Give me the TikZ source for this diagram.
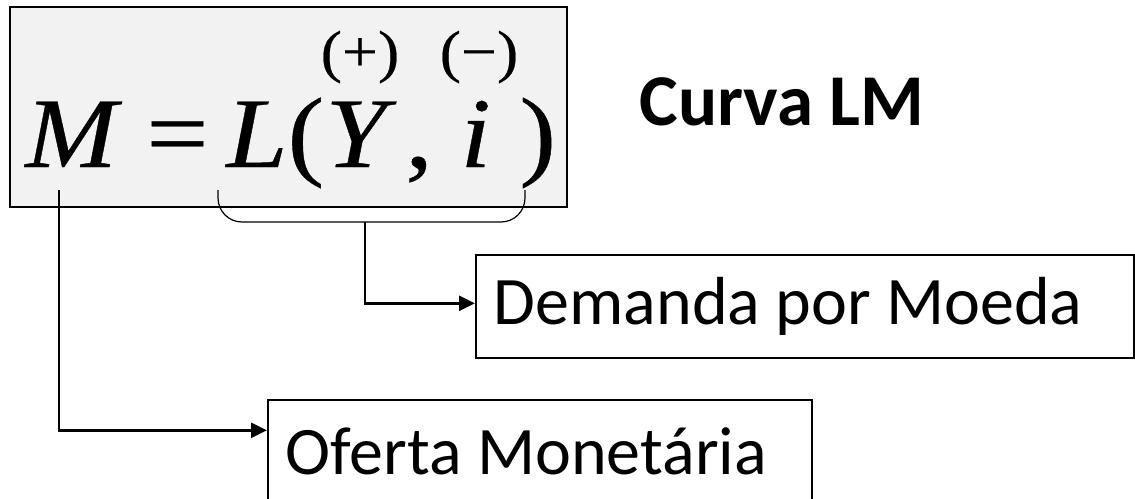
\documentclass[tikz,border=0pt]{standalone}
\usepackage{fontspec}
\setmainfont{Carlito}
\newfontfamily\tmsfont[FakeStretch=1.1, FakeBold=0.4]{Liberation Serif}
\usetikzlibrary{arrows.meta, positioning}

\begin{document}
\begin{tikzpicture}[
        x=0.5pt, y=-0.5pt,
        eqbox/.style={draw, fill=black!5, line width=0.8pt},
        sym/.style={anchor=base west, inner sep=0pt, font=\tmsfont\fontsize{50}{50}\selectfont},
        sign/.style={anchor=base, inner sep=0pt, font=\tmsfont\fontsize{29}{29}\selectfont},
        txtbox/.style={draw, line width=0.8pt, anchor=north west, inner xsep=9pt, font=\fontsize{34}{38}\selectfont},
        arrow/.style={-{Triangle[length=8pt, width=7.5pt]}, line width=1.4pt}
    ]
    \useasboundingbox (0,0) rectangle (1135,498);

    % equation box
    \draw[eqbox] (10,7) rectangle (567,207);
    \node[sym] (mvar) at (25,167) {\itshape M};
    \node[sym] (eq) at (146,167) {=};
    \node[sym] (lfun) at (226,167) {\itshape L\upshape (};
    \node[sym] (yvar) at (325,167) {\itshape Y};
    \node[sym] (comma) at (405,167) {,};
    \node[sym] (ivar) at (460,167) {\itshape i};
    \node[sym] (rpar) at (519,167) {)};
    \node[sign] (plus) at (360,71) {(+)};
    \node[sign] (minus) at (479,71) {(−)};

    \node[font=\bfseries\fontsize{36.5}{40}\selectfont, anchor=base, inner sep=0pt] (title) at (782,125) {Curva LM};

    % boxes
    \node[txtbox, minimum height=51.5pt] (dem) at (475,254) {\makebox[311pt][l]{Demanda por Moeda}};
    \node[txtbox, minimum height=51.5pt] (ofe) at (267,399) {\makebox[254pt][l]{Oferta Monetária}};

    % brace under L(Y, i)
    \coordinate (bracel) at (218,190);
    \coordinate (bracer) at (525,190);
    \coordinate (bracemid) at (365,222);
    \coordinate (mfoot) at (59,190);
    \draw[line width=0.6pt, rounded corners=12pt] (bracel) -- (218,222) -- (525,222) -- (bracer);

    \draw[arrow] (bracemid) |- ([yshift=1.5pt]dem.west);
    \draw[arrow] (mfoot) |- ([yshift=10.5pt]ofe.west);
\end{tikzpicture}
\end{document}
